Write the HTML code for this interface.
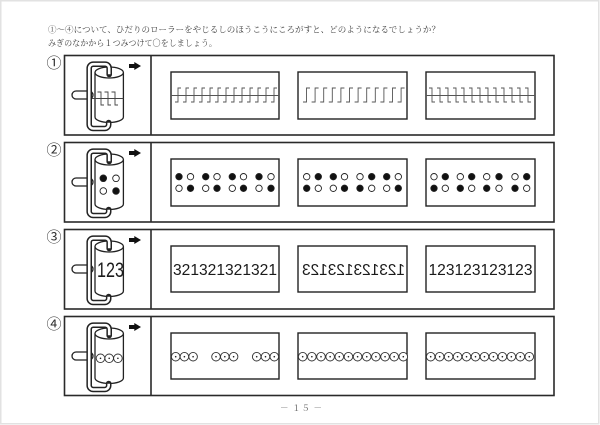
<!DOCTYPE html>
<html><head><meta charset="utf-8"><style>
html,body{margin:0;padding:0;background:#fff;}
body{width:600px;height:425px;overflow:hidden;position:relative;}
svg{position:absolute;left:0;top:0;}
</style></head><body>
<svg width="600" height="425" viewBox="0 0 600 425" xmlns="http://www.w3.org/2000/svg">
<defs>
<g id="roller">
  <rect x="72" y="91" width="21" height="8" rx="4" ry="4" fill="#fff" stroke="#222" stroke-width="1.3"/>
  <path d="M95,72.5 V117 A14.2,5.5 0 0 0 123.4,117 V72.5" fill="#fff" stroke="#222" stroke-width="1.3"/>
  <ellipse cx="109.2" cy="72.5" rx="14.2" ry="5.5" fill="#fff" stroke="#222" stroke-width="1.3"/>
  <path d="M109.2,74.5 V68.2 A4,4 0 0 0 105.2,64.2 H93.2 A4,4 0 0 0 89.2,68.2 V124.5 A4,4 0 0 0 93.2,128.5 H104.7 A4,4 0 0 0 108.7,124.5 V122.5" fill="none" stroke="#222" stroke-width="5.6" stroke-linecap="round"/>
  <path d="M109.2,74.2 V68.2 A4,4 0 0 0 105.2,64.2 H93.2 A4,4 0 0 0 89.2,68.2 V124.5 A4,4 0 0 0 93.2,128.5 H104.7 A4,4 0 0 0 108.7,124.5 V122.8" fill="none" stroke="#fff" stroke-width="2.6"/>
  <path d="M129,64 H134.3 V62 L141,66 L134.3,70 V68 H129 Z" fill="#111"/>
</g>
<g id="cir">
  <circle r="4.3" fill="#fff" stroke="#333" stroke-width="0.9"/>
  <circle r="0.8" fill="#222"/>
</g>
</defs>

<!-- page frame -->
<rect x="0.75" y="0.75" width="598" height="423" fill="none" stroke="#e2e2e2" stroke-width="1.5"/>

<!-- header -->
<g font-family="'Liberation Serif','Noto Serif CJK SC',serif" font-size="8.5" fill="#444">
<text x="48" y="32.7" textLength="392" lengthAdjust="spacingAndGlyphs">①～④について、ひだりのローラーをやじるしのほうこうにころがすと、どのようになるでしょうか？</text>
<text x="48" y="46" textLength="169" lengthAdjust="spacingAndGlyphs">みぎのなかから１つみつけて〇をしましょう。</text>
</g>

<!-- circled numbers -->
<g font-family="'Noto Sans CJK JP',sans-serif" font-size="15" fill="#333" text-anchor="middle">
<text x="54" y="68">①</text>
<text x="54" y="155">②</text>
<text x="54" y="242">③</text>
<text x="54" y="329">④</text>
</g>

<!-- row frames -->
<g fill="none" stroke="#2a2a2a" stroke-width="1.6">
<rect x="64.5" y="55.5" width="489.5" height="79.5"/>
<line x1="151" y1="55.5" x2="151" y2="135"/>
<rect x="64.5" y="142.5" width="489.5" height="79.5"/>
<line x1="151" y1="142.5" x2="151" y2="222"/>
<rect x="64.5" y="229.5" width="489.5" height="79.5"/>
<line x1="151" y1="229.5" x2="151" y2="309"/>
<rect x="64.5" y="316.5" width="489.5" height="79"/>
<line x1="151" y1="316.5" x2="151" y2="395.5"/>
</g>

<!-- inner boxes -->
<g fill="#fff" stroke="#222" stroke-width="1.4">
<rect x="171" y="72" width="108" height="47"/>
<rect x="298" y="72" width="109" height="47"/>
<rect x="426" y="72" width="109" height="47"/>
<rect x="171" y="159" width="108" height="47"/>
<rect x="298" y="159" width="109" height="47"/>
<rect x="426" y="159" width="109" height="47"/>
<rect x="171" y="246" width="108" height="46"/>
<rect x="298" y="246" width="109" height="46"/>
<rect x="426" y="246" width="109" height="46"/>
<rect x="171" y="333" width="108" height="46"/>
<rect x="298" y="333" width="109" height="46"/>
<rect x="426" y="333" width="109" height="46"/>
</g>

<!-- rollers -->
<use href="#roller"/>
<use href="#roller" transform="translate(0,87)"/>
<use href="#roller" transform="translate(0,174)"/>
<use href="#roller" transform="translate(0,261)"/>

<!-- row 1 roller pattern -->
<g fill="none" stroke="#444" stroke-width="0.9">
<line x1="92" y1="98.5" x2="123.4" y2="98.5"/>
<path d="M97.5,92 H101 V105 H104 M104.5,92 H108 V105 H111 M111.5,92 H115 V105 H118"/>
</g>

<!-- row 1 results -->
<g fill="none" stroke="#555" stroke-width="0.9">
<line x1="171" y1="95.5" x2="279" y2="95.5"/>
<path d="M181,88 H178 V102 H175 M189,88 H186 V102 H183 M197,88 H194 V102 H191 M205,88 H202 V102 H199 M213,88 H210 V102 H207 M221,88 H218 V102 H215 M229,88 H226 V102 H223 M237,88 H234 V102 H231 M245,88 H242 V102 H239 M253,88 H250 V102 H247 M261,88 H258 V102 H255 M269,88 H266 V102 H263 M277,88 H274 V102 H271"/>
<path d="M310,88 H306.5 V102 H303 M318.6,88 H315.1 V102 H311.6 M327.2,88 H323.7 V102 H320.2 M335.8,88 H332.3 V102 H328.8 M344.4,88 H340.9 V102 H337.4 M353,88 H349.5 V102 H346 M361.6,88 H358.1 V102 H354.6 M370.2,88 H366.7 V102 H363.2 M378.8,88 H375.3 V102 H371.8 M387.4,88 H383.9 V102 H380.4 M396,88 H392.5 V102 H389 M404.6,88 H401.1 V102 H397.6"/>
<line x1="426" y1="95.5" x2="535" y2="95.5"/>
<path d="M429,88 H432 V102 H435 M437,88 H440 V102 H443 M445,88 H448 V102 H451 M453,88 H456 V102 H459 M461,88 H464 V102 H467 M469,88 H472 V102 H475 M477,88 H480 V102 H483 M485,88 H488 V102 H491 M493,88 H496 V102 H499 M501,88 H504 V102 H507 M509,88 H512 V102 H515 M517,88 H520 V102 H523 M525,88 H528 V102 H531"/>
</g>

<!-- row 2 roller dots -->
<g stroke="#222" stroke-width="0.9">
<circle cx="103.3" cy="178.3" r="3.3" fill="#111"/>
<circle cx="116" cy="178.3" r="3.3" fill="#fff"/>
<circle cx="103.3" cy="191" r="3.3" fill="#fff"/>
<circle cx="116" cy="191" r="3.3" fill="#111"/>
</g>

<!-- row 2 results -->
<g stroke="#222" stroke-width="0.9">
<circle cx="179" cy="176.7" r="3.2" fill="#111"/><circle cx="190.5" cy="176.7" r="3.2" fill="#fff"/>
<circle cx="205.7" cy="176.7" r="3.2" fill="#111"/><circle cx="217" cy="176.7" r="3.2" fill="#fff"/>
<circle cx="232.3" cy="176.7" r="3.2" fill="#111"/><circle cx="243.5" cy="176.7" r="3.2" fill="#fff"/>
<circle cx="259" cy="176.7" r="3.2" fill="#111"/><circle cx="271" cy="176.7" r="3.2" fill="#fff"/>
<circle cx="179" cy="188.3" r="3.2" fill="#fff"/><circle cx="190.5" cy="188.3" r="3.2" fill="#111"/>
<circle cx="205.7" cy="188.3" r="3.2" fill="#fff"/><circle cx="217" cy="188.3" r="3.2" fill="#111"/>
<circle cx="232.3" cy="188.3" r="3.2" fill="#fff"/><circle cx="243.5" cy="188.3" r="3.2" fill="#111"/>
<circle cx="259" cy="188.3" r="3.2" fill="#fff"/><circle cx="271" cy="188.3" r="3.2" fill="#111"/>
<circle cx="306.7" cy="176.7" r="3.2" fill="#fff"/><circle cx="318.3" cy="176.7" r="3.2" fill="#111"/>
<circle cx="333.3" cy="176.7" r="3.2" fill="#111"/><circle cx="344.5" cy="176.7" r="3.2" fill="#fff"/>
<circle cx="360" cy="176.7" r="3.2" fill="#fff"/><circle cx="371.7" cy="176.7" r="3.2" fill="#111"/>
<circle cx="386.7" cy="176.7" r="3.2" fill="#111"/><circle cx="398.3" cy="176.7" r="3.2" fill="#fff"/>
<circle cx="306.7" cy="188.3" r="3.2" fill="#111"/><circle cx="318.3" cy="188.3" r="3.2" fill="#fff"/>
<circle cx="333.3" cy="188.3" r="3.2" fill="#fff"/><circle cx="344.5" cy="188.3" r="3.2" fill="#111"/>
<circle cx="360" cy="188.3" r="3.2" fill="#111"/><circle cx="371.7" cy="188.3" r="3.2" fill="#fff"/>
<circle cx="386.7" cy="188.3" r="3.2" fill="#fff"/><circle cx="398.3" cy="188.3" r="3.2" fill="#111"/>
<circle cx="434" cy="176.7" r="3.2" fill="#fff"/><circle cx="445.3" cy="176.7" r="3.2" fill="#111"/>
<circle cx="460.3" cy="176.7" r="3.2" fill="#fff"/><circle cx="471.7" cy="176.7" r="3.2" fill="#111"/>
<circle cx="486.7" cy="176.7" r="3.2" fill="#fff"/><circle cx="499" cy="176.7" r="3.2" fill="#111"/>
<circle cx="515" cy="176.7" r="3.2" fill="#fff"/><circle cx="526.7" cy="176.7" r="3.2" fill="#111"/>
<circle cx="434" cy="188.3" r="3.2" fill="#111"/><circle cx="445.3" cy="188.3" r="3.2" fill="#fff"/>
<circle cx="460.3" cy="188.3" r="3.2" fill="#111"/><circle cx="471.7" cy="188.3" r="3.2" fill="#fff"/>
<circle cx="486.7" cy="188.3" r="3.2" fill="#111"/><circle cx="499" cy="188.3" r="3.2" fill="#fff"/>
<circle cx="515" cy="188.3" r="3.2" fill="#111"/><circle cx="526.7" cy="188.3" r="3.2" fill="#fff"/>
</g>

<!-- row 3 -->
<g font-family="'Liberation Sans',sans-serif" fill="#1a1a1a">
<text x="97" y="277" font-size="21" textLength="27" lengthAdjust="spacingAndGlyphs">123</text>
<text x="173" y="275" font-size="16" textLength="104" lengthAdjust="spacingAndGlyphs">321321321321</text>
<text x="-405" y="275" font-size="16" textLength="103" lengthAdjust="spacingAndGlyphs" transform="scale(-1,1)">123123123123</text>
<text x="428.5" y="275" font-size="16" textLength="104" lengthAdjust="spacingAndGlyphs">123123123123</text>
</g>

<!-- row 4 roller circles -->
<use href="#cir" x="100.5" y="358.3"/>
<use href="#cir" x="109.2" y="358.3"/>
<use href="#cir" x="117.9" y="358.3"/>

<!-- row 4 results -->
<use href="#cir" x="175.7" y="356.7"/><use href="#cir" x="184.4" y="356.7"/><use href="#cir" x="193.1" y="356.7"/>
<use href="#cir" x="216" y="356.7"/><use href="#cir" x="224.8" y="356.7"/><use href="#cir" x="233.6" y="356.7"/>
<use href="#cir" x="256.7" y="356.7"/><use href="#cir" x="265.5" y="356.7"/><use href="#cir" x="274.3" y="356.7"/>

<use href="#cir" x="302.7" y="356.7"/><use href="#cir" x="311.85" y="356.7"/><use href="#cir" x="321" y="356.7"/>
<use href="#cir" x="330.15" y="356.7"/><use href="#cir" x="339.3" y="356.7"/><use href="#cir" x="348.45" y="356.7"/>
<use href="#cir" x="357.6" y="356.7"/><use href="#cir" x="366.75" y="356.7"/><use href="#cir" x="375.9" y="356.7"/>
<use href="#cir" x="385.05" y="356.7"/><use href="#cir" x="394.2" y="356.7"/><use href="#cir" x="403.3" y="356.7"/>

<use href="#cir" x="430.7" y="356.7"/><use href="#cir" x="439.66" y="356.7"/><use href="#cir" x="448.62" y="356.7"/>
<use href="#cir" x="457.58" y="356.7"/><use href="#cir" x="466.54" y="356.7"/><use href="#cir" x="475.5" y="356.7"/>
<use href="#cir" x="484.46" y="356.7"/><use href="#cir" x="493.42" y="356.7"/><use href="#cir" x="502.38" y="356.7"/>
<use href="#cir" x="511.34" y="356.7"/><use href="#cir" x="520.3" y="356.7"/><use href="#cir" x="529.3" y="356.7"/>

<!-- footer -->
<text x="280" y="411" textLength="42" lengthAdjust="spacing" font-family="'Liberation Serif','Noto Serif CJK SC',serif" font-size="8.5" fill="#666">－ １５ －</text>
</svg>
</body></html>
